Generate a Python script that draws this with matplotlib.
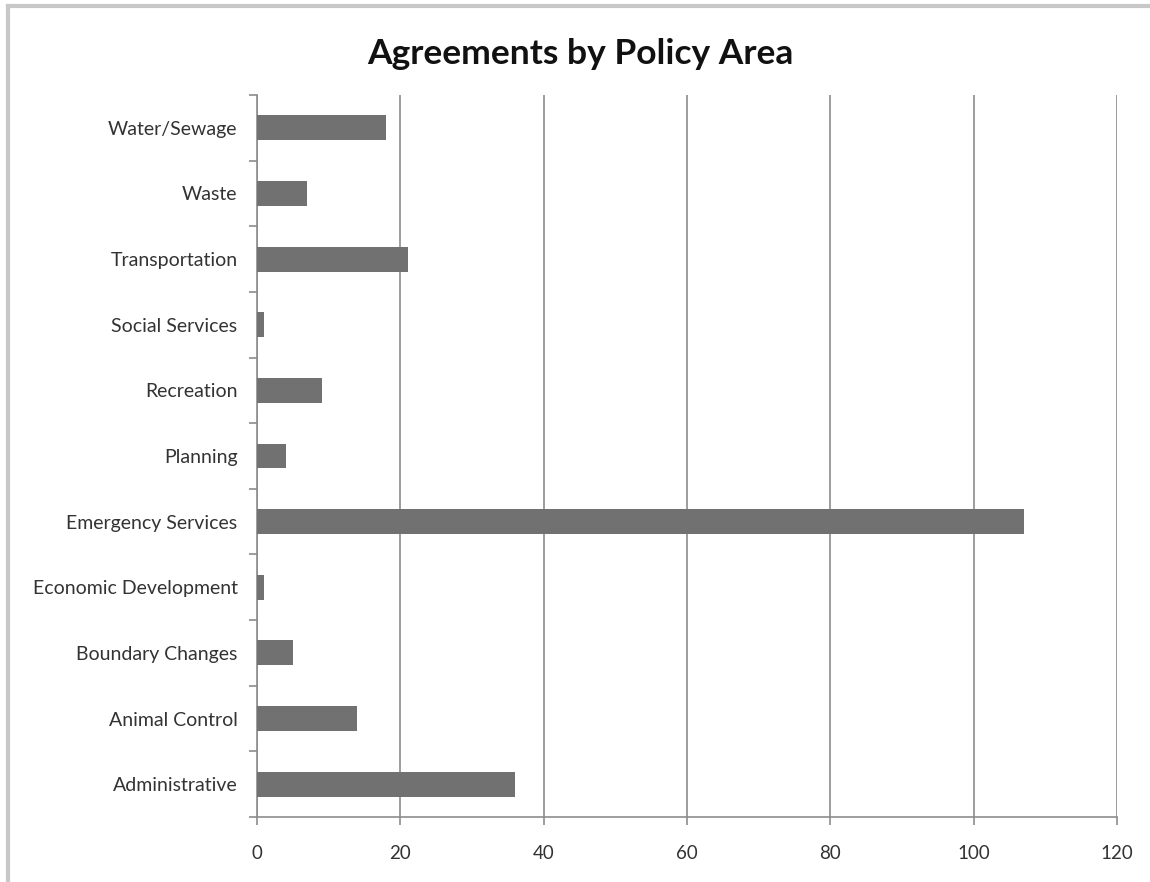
import matplotlib
matplotlib.use("Agg")
import matplotlib.pyplot as plt
from matplotlib.lines import Line2D
import numpy as np

categories = ["Administrative", "Animal Control", "Boundary Changes", "Economic Development",
              "Emergency Services", "Planning", "Recreation", "Social Services",
              "Transportation", "Waste", "Water/Sewage"]
values = [36, 14, 5, 1, 107, 4, 9, 1, 21, 7, 18]
xticks = [0, 20, 40, 60, 80, 100, 120]
title = "Agreements by Policy Area"

plt.rcParams['font.family'] = ['Lato', 'DejaVu Sans']

fig = plt.figure(figsize=(11.5, 8.82), dpi=100)
ax = fig.add_axes([0.2235, 0.0737, 0.9713 - 0.2235, 0.8923 - 0.0737])

y = np.arange(len(categories))
ax.barh(y, values, height=0.38, color="#717171", zorder=3)
ax.set_ylim(-0.5, len(categories) - 0.5)
ax.set_xlim(0, 120)
ax.set_xticks(xticks)
ax.set_xticklabels([str(v) for v in xticks])

ax.set_yticks(y)
ax.set_yticklabels(categories)
ax.set_yticks(np.arange(-0.5, len(categories), 1.0), minor=True)
ax.tick_params(axis="y", which="major", length=0, pad=14, labelsize=14, labelcolor="#333333")
ax.tick_params(axis="y", which="minor", length=6, color="#8c8c8c", width=1.2)
ax.tick_params(axis="x", which="major", length=6, color="#8c8c8c", width=1.2, pad=14,
               labelsize=13.5, labelcolor="#333333")

ax.grid(axis="x", color="#8c8c8c", linewidth=1.2, zorder=0)
for s in ["top", "right"]:
    ax.spines[s].set_visible(False)
for s in ["left", "bottom"]:
    ax.spines[s].set_color("#8c8c8c")
    ax.spines[s].set_linewidth(1.2)

fig.text(0.505, 0.939, title, ha="center", va="center", fontsize=25.5, fontweight="bold",
         color="#111111")

# figure frame (top and left edges visible)
fig.add_artist(Line2D([0.007, 1.0], [0.9935, 0.9935], transform=fig.transFigure,
                      color="#c8c8c8", linewidth=3))
fig.add_artist(Line2D([0.007, 0.007], [0.0, 0.9935], transform=fig.transFigure,
                      color="#c8c8c8", linewidth=3))

fig.savefig("out.png", dpi=100)
